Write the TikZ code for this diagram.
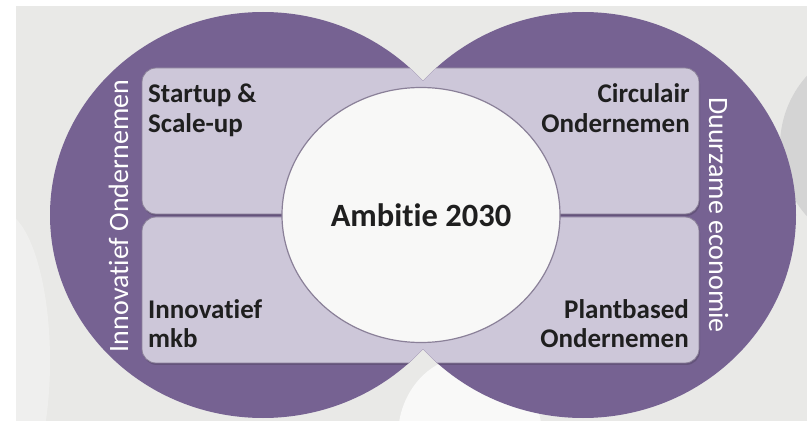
\documentclass[tikz,border=0pt]{standalone}
\usepackage{fontspec}
\setmainfont{Carlito}[Ligatures=NoCommon]
\usepackage{tikz}
\usetikzlibrary{positioning,backgrounds,shapes.geometric}

\definecolor{paars}{RGB}{118,98,146}
\definecolor{lila}{RGB}{205,199,217}
\definecolor{rand}{RGB}{138,128,152}
\definecolor{schaduw}{RGB}{88,74,108}
\definecolor{achter}{RGB}{233,233,231}
\definecolor{wit}{RGB}{248,248,247}

\tikzset{
  vaklabel/.style={font=\fontsize{27}{30}\selectfont\bfseries, text=black!88, inner sep=0pt, align=left},
  zijtekst/.style={font=\fontsize{28}{30}\selectfont, text=white, inner sep=0pt},
  band/.style={fill=lila, draw=rand, line width=0.8pt, rounded corners=14pt},
  bandschaduw/.style={fill=schaduw, opacity=.6, rounded corners=14pt}
}

\begin{document}
\begin{tikzpicture}[x=1pt,y=1pt]
  \useasboundingbox (0,0) rectangle (807,421);
  \fill[white] (0,0) rectangle (807,421);
  \fill[achter] (16,0) rectangle (807,415);
  % vlekken in de achtergrond
  \fill[black!17] (885,275) circle (105);
  \fill[white,opacity=.75] (470,-15) ellipse (72 and 80);
  \fill[white,opacity=.3] (0,60) ellipse (50 and 150);

  % twee cirkels
  \fill[paars] (263,206) ellipse (213 and 203);
  \fill[paars] (583,206) ellipse (213 and 203);

  % banden, afgesneden door de cirkels
  \begin{scope}
    \clip (263,206) ellipse (213 and 203) (583,206) ellipse (213 and 203);
    \fill[bandschaduw] (143,205) rectangle (700,351);
    \fill[bandschaduw] (143,56) rectangle (700,202);
    \draw[band] (142,207) rectangle (699,353);
    \draw[band] (142,58) rectangle (699,204);
  \end{scope}

  \node (ambitie) [ellipse, minimum width=278pt, minimum height=255pt, inner sep=0pt,
    fill=wit, draw=rand, line width=1.2pt,
    font=\fontsize{32.5}{36}\selectfont\bfseries, text=black!88] at (421,206) {Ambitie 2030};

  \node (startup) [vaklabel, anchor=base west] at (148,288) {Startup \&\\Scale-up};
  \node (circulair) [vaklabel, anchor=base east, align=right] at (690,288) {Circulair\\Ondernemen};
  \node (innovatief) [vaklabel, anchor=base west] at (148,73) {Innovatief\\mkb};
  \node (plantbased) [vaklabel, anchor=base east, align=right] at (689,73) {Plantbased\\Ondernemen};

  \node (ondernemen) [zijtekst, rotate=90, anchor=base] at (128,205) {Innovatief Ondernemen};
  \node (duurzaam) [zijtekst, rotate=-90, anchor=base] at (709,206) {Duurzame economie};
\end{tikzpicture}
\end{document}
